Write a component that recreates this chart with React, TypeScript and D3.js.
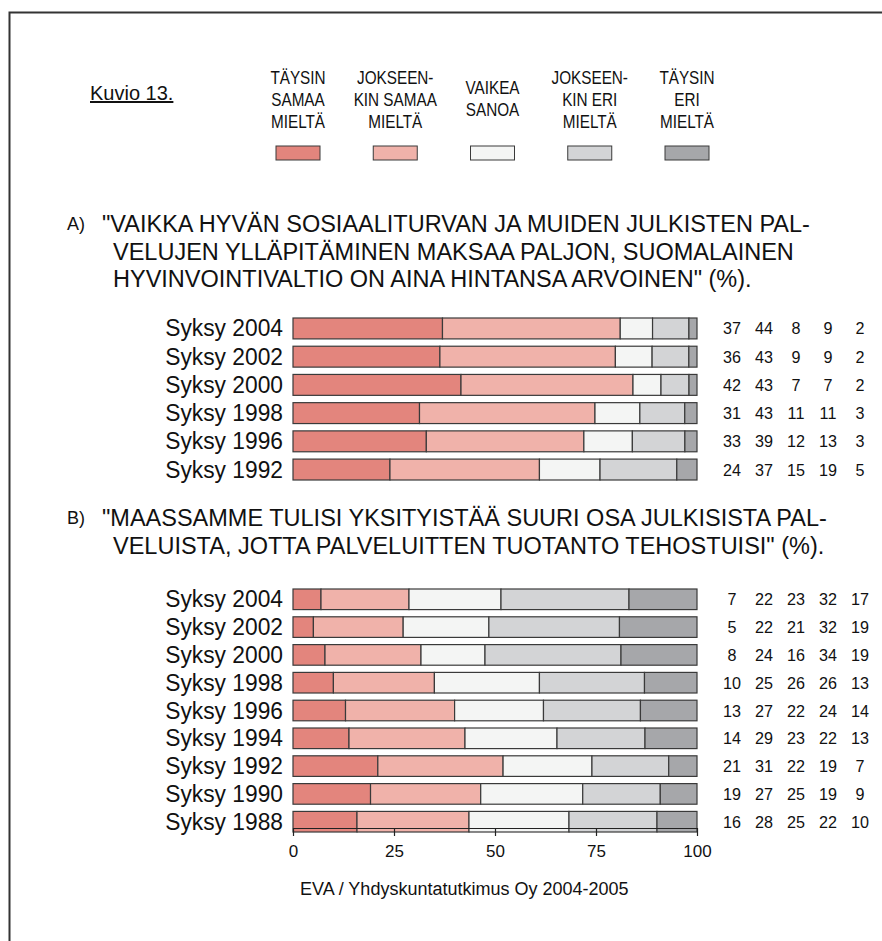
import React, { useEffect, useRef } from "react";
import * as d3 from "d3";

const legendLabels = [
  ["TÄYSIN", "SAMAA", "MIELTÄ"],
  ["JOKSEEN-", "KIN SAMAA", "MIELTÄ"],
  ["VAIKEA", "SANOA"],
  ["JOKSEEN-", "KIN ERI", "MIELTÄ"],
  ["TÄYSIN", "ERI", "MIELTÄ"],
];
const colors = ["#e3857d", "#f0b2aa", "#f4f5f4", "#d3d4d6", "#a6a7aa"];

const titleA = [
  '"VAIKKA HYVÄN SOSIAALITURVAN JA MUIDEN JULKISTEN PAL-',
  "VELUJEN YLLÄPITÄMINEN MAKSAA PALJON, SUOMALAINEN",
  'HYVINVOINTIVALTIO ON AINA HINTANSA ARVOINEN" (%).',
];
const yearsA = ["Syksy 2004", "Syksy 2002", "Syksy 2000", "Syksy 1998", "Syksy 1996", "Syksy 1992"];
const valuesA = [
  [37, 44, 8, 9, 2],
  [36, 43, 9, 9, 2],
  [42, 43, 7, 7, 2],
  [31, 43, 11, 11, 3],
  [33, 39, 12, 13, 3],
  [24, 37, 15, 19, 5],
];

const titleB = [
  '"MAASSAMME TULISI YKSITYISTÄÄ SUURI OSA JULKISISTA PAL-',
  'VELUISTA, JOTTA PALVELUITTEN TUOTANTO TEHOSTUISI" (%).',
];
const yearsB = [
  "Syksy 2004", "Syksy 2002", "Syksy 2000", "Syksy 1998", "Syksy 1996",
  "Syksy 1994", "Syksy 1992", "Syksy 1990", "Syksy 1988",
];
const valuesB = [
  [7, 22, 23, 32, 17],
  [5, 22, 21, 32, 19],
  [8, 24, 16, 34, 19],
  [10, 25, 26, 26, 13],
  [13, 27, 22, 24, 14],
  [14, 29, 23, 22, 13],
  [21, 31, 22, 19, 7],
  [19, 27, 25, 19, 9],
  [16, 28, 25, 22, 10],
];

const ticks = [0, 25, 50, 75, 100];
const sourceText = "EVA / Yhdyskuntatutkimus Oy 2004-2005";

const W = 882;
const H = 941;
const FONT = "'Liberation Sans', Arial, sans-serif";

const App: React.FC = () => {
  const svgRef = useRef<SVGSVGElement>(null);

  useEffect(() => {
    if (!svgRef.current) return;
    const svg = d3.select(svgRef.current);
    svg.selectAll("*").remove();

    const x = d3.scaleLinear().domain([0, 100]).range([293, 697]);
    const valueX = d3.scalePoint<number>().domain([0, 1, 2, 3, 4]).range([732, 860]);
    const stroke = "#3a3a3a";

    // condensed text helper (source uses a narrow Helvetica)
    const narrow = (
      parent: d3.Selection<any, any, any, any>,
      tx: number,
      ty: number,
      txt: string | number,
      size: number,
      sx: number,
      anchor = "start"
    ) =>
      parent.append("text")
        .attr("transform", `translate(${tx},${ty}) scale(${sx},1)`)
        .attr("text-anchor", anchor)
        .style("font-family", FONT).style("font-size", `${size}px`)
        .attr("fill", "#111")
        .text(txt);

    // frame (only top and left edges visible)
    svg.append("path")
      .attr("d", `M9.5,${H} V12.5 H${W}`)
      .attr("fill", "none")
      .attr("stroke", "#333")
      .attr("stroke-width", 2);

    // header
    svg.append("text")
      .attr("x", 90).attr("y", 100)
      .style("font-family", FONT).style("font-size", "20px")
      .attr("fill", "#111")
      .attr("text-decoration", "underline")
      .text("Kuvio 13.");

    const legendX = d3.scalePoint<number>().domain([0, 1, 2, 3, 4]).range([298, 687]);
    const lg = svg.append("g").selectAll("g").data(legendLabels).enter().append("g")
      .attr("transform", (d, i) => `translate(${legendX(i)},0)`);
    lg.each(function (lines) {
      const g = d3.select(this);
      const offs = lines.length === 2 ? 10 : 0;
      lines.forEach((l, j) => {
        narrow(g, 0, 84 + offs + j * 22, l, 18, 0.85, "middle");
      });
    });
    lg.append("rect")
      .attr("x", -22).attr("y", 146).attr("width", 44).attr("height", 14)
      .attr("fill", (d, i) => colors[i])
      .attr("stroke", stroke).attr("stroke-width", 1);

    const drawPanel = (
      letter: string,
      title: string[],
      titleY: number,
      years: string[],
      values: number[][],
      top: number,
      withAxis: boolean
    ) => {
      const g = svg.append("g");
      g.append("text")
        .attr("x", 67).attr("y", titleY + 6)
        .style("font-family", FONT).style("font-size", "18px")
        .attr("fill", "#111").text(letter);
      title.forEach((t, j) => {
        g.append("text")
          .attr("x", j === 0 ? 102 : 113).attr("y", titleY + 8 + j * 27.5)
          .style("font-family", FONT).style("font-size", "23.5px")
          .attr("fill", "#111").text(t);
      });

      const y = d3.scaleBand().domain(years)
        .range([top, top + years.length * 27])
        .paddingInner(7 / 27).paddingOuter(0).align(0);

      const rows = g.selectAll(".row").data(years).enter().append("g").attr("class", "row");
      rows.each(function (yr, i) {
        const row = d3.select(this);
        const yc = (y(yr) as number) + y.bandwidth() / 2;
        narrow(row, 283, yc + 8, yr, 24, 0.95, "end");
        const vals = values[i];
        const total = d3.sum(vals);
        let cum = 0;
        vals.forEach((v, k) => {
          const x0 = x((cum / total) * 100);
          cum += v;
          const x1 = x((cum / total) * 100);
          row.append("rect")
            .attr("x", x0).attr("y", y(yr) as number)
            .attr("width", x1 - x0).attr("height", y.bandwidth())
            .attr("fill", colors[k])
            .attr("stroke", stroke).attr("stroke-width", 1.2);
          narrow(row, valueX(k) as number, yc + 6, v, 17, 0.95, "middle");
        });
      });

      if (withAxis) {
        const axisY = top + years.length * 27 - 7 + 3;
        const axis = g.append("g").attr("transform", `translate(0,${axisY})`)
          .call(d3.axisBottom(x).tickValues(ticks).tickSize(8).tickSizeOuter(0).tickPadding(9));
        axis.select(".domain").attr("stroke", "#222").attr("stroke-width", 1.2);
        axis.selectAll(".tick line").attr("stroke", "#222").attr("stroke-width", 1.2);
        axis.selectAll(".tick text")
          .style("font-family", FONT).style("font-size", "17px").attr("fill", "#111");
      }
    };

    drawPanel("A)", titleA, 224, yearsA, valuesA, 318, false);
    drawPanel("B)", titleB, 518, yearsB, valuesB, 589, true);

    svg.append("text")
      .attr("x", 300).attr("y", 895)
      .style("font-family", FONT).style("font-size", "18px")
      .attr("fill", "#111").text(sourceText);
  }, []);

  return (
    <svg
      ref={svgRef}
      width={W}
      height={H}
      viewBox={`0 0 ${W} ${H}`}
      style={{ position: "absolute", left: 0, top: 0, background: "#fff" }}
    />
  );
};

export default App;
